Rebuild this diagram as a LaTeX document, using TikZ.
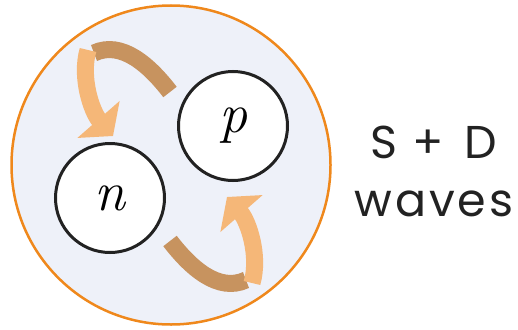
\documentclass[tikz,border=0pt]{standalone}
\usepackage{fontspec}
\newfontfamily\labelfont[LetterSpace=6]{Poppins}
\usetikzlibrary{arrows.meta}
\definecolor{ringorange}{HTML}{EF881C}
\definecolor{cloud}{HTML}{EEF1F9}
\definecolor{backband}{HTML}{C7935F}
\definecolor{frontband}{HTML}{F5B778}
\definecolor{ink}{HTML}{222222}

\begin{document}
\begin{tikzpicture}[x=1pt,y=-1pt,
    nucleon/.style={circle,draw=ink,line width=3pt,fill=white,minimum size=109pt,
      inner sep=0pt,font=\itshape\fontsize{56}{56}\selectfont},
    back/.style={draw=backband,line width=17pt},
    front/.style={draw=frontband,line width=17pt,-{Triangle[width=55pt,length=22pt]}}]
  \useasboundingbox (0,0) rectangle (518,329);
  \node[circle,draw=ringorange,line width=2.5pt,fill=cloud,minimum size=319pt] (nucleus) at (171,165) {};
  \node[nucleon] (p) at (233,126) {p};
  \node[nucleon] (n) at (110,198) {n};
  % p -> n, over the top
  \coordinate (pout) at (170,92);
  \coordinate (ptop) at (94,53);
  \coordinate (ptopf) at (88,50);
  \coordinate (nin) at (113,136);
  \draw[back] (pout) .. controls (150,66) and (122,40) .. (ptop);
  \draw[front] (ptopf) .. controls (80,78) and (92,112) .. (nin);
  % n -> p, under the bottom
  \coordinate (nout) at (170,241);
  \coordinate (nbot) at (246,280);
  \coordinate (nbotf) at (252,283);
  \coordinate (pin) at (227,197);
  \draw[back] (nout) .. controls (190,267) and (218,293) .. (nbot);
  \draw[front] (nbotf) .. controls (260,255) and (248,221) .. (pin);
  \node[font=\labelfont\fontsize{46}{58}\selectfont,text=ink,align=center,inner sep=0pt]
    (waves) at (434,171.5) {S +\hspace{6pt} D\\waves};
\end{tikzpicture}
\end{document}
